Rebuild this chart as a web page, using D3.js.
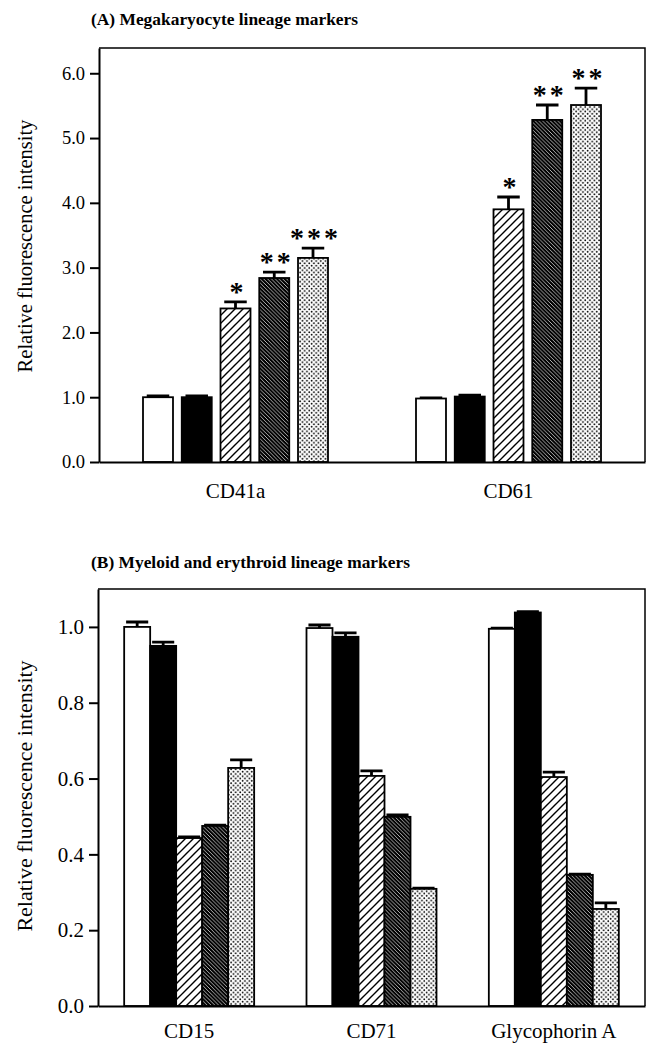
<!DOCTYPE html>
<html>
<head>
<meta charset="utf-8">
<script src="https://cdn.jsdelivr.net/npm/d3@7"></script>
<style>
  body { margin: 0; background: #fff; }
  svg { display: block; }
  text { font-family: "Liberation Serif", "Times New Roman", serif; fill: #000; }
</style>
</head>
<body>
<svg width="652" height="1044"></svg>
<script>
const width = 652, height = 1044;
const svg = d3.select("svg");

// series order (fill style of each bar within a group)
const seriesKeys = ["open", "solid", "hatch", "denseHatch", "dots"];

// Panel A: megakaryocyte lineage markers
const markersA = ["CD41a", "CD61"];
const meanA = [
    [1.00, 1.00, 2.37, 2.84, 3.15],
    [0.98, 1.01, 3.90, 5.28, 5.51]
];
const errA = [
    [0.02, 0.02, 0.10, 0.09, 0.15],
    [0.01, 0.02, 0.19, 0.23, 0.26]
];
const starsA = [
    ["", "", "*", "**", "***"],
    ["", "", "*", "**", "**"]
];
const ticksA = [0, 1, 2, 3, 4, 5, 6];

// Panel B: myeloid and erythroid lineage markers
const markersB = ["CD15", "CD71", "Glycophorin A"];
const meanB = [
    [1.000, 0.950, 0.443, 0.475, 0.628],
    [0.997, 0.974, 0.607, 0.499, 0.309],
    [0.995, 1.038, 0.604, 0.346, 0.256]
];
const errB = [
    [0.013, 0.010, 0.003, 0.002, 0.021],
    [0.008, 0.010, 0.013, 0.005, 0.002],
    [0.002, 0.002, 0.013, 0.002, 0.016]
];
const ticksB = [0, 0.2, 0.4, 0.6, 0.8, 1.0];

// Fill patterns for the bars
function makePatterns() {
    const defs = svg.append("defs");

    const hatch = defs.append("pattern")
        .attr("id", "hatch").attr("patternUnits", "userSpaceOnUse")
        .attr("width", 8).attr("height", 8);
    hatch.append("rect").attr("width", 8).attr("height", 8).attr("fill", "#fff");
    hatch.append("path")
        .attr("d", "M0,8 L8,0 M-1,1 L1,-1 M7,9 L9,7")
        .attr("stroke", "#000").attr("stroke-width", 1.4);

    const dense = defs.append("pattern")
        .attr("id", "denseHatch").attr("patternUnits", "userSpaceOnUse")
        .attr("width", 3.8).attr("height", 3.8);
    dense.append("rect").attr("width", 3.8).attr("height", 3.8).attr("fill", "#000");
    dense.append("path")
        .attr("d", "M0,0 L3.8,3.8 M-1,2.8 L1,4.8 M2.8,-1 L4.8,1")
        .attr("stroke", "#fff").attr("stroke-width", 0.7);

    const dots = defs.append("pattern")
        .attr("id", "dots").attr("patternUnits", "userSpaceOnUse")
        .attr("width", 4.6).attr("height", 4.6);
    dots.append("rect").attr("width", 4.6).attr("height", 4.6).attr("fill", "#fff");
    dots.append("circle").attr("cx", 1.1).attr("cy", 1.1).attr("r", 0.9).attr("fill", "#000");
    dots.append("circle").attr("cx", 3.4).attr("cy", 3.4).attr("r", 0.9).attr("fill", "#000");
}

const fillFor = {
    open: "#fff",
    solid: "#000",
    hatch: "url(#hatch)",
    denseHatch: "url(#denseHatch)",
    dots: "url(#dots)"
};

// Draw one framed bar panel
function drawPanel(p) {
    const g = svg.append("g");

    const x0 = d3.scaleBand().domain(p.markers).range([p.left, p.right]).padding(0);
    const x1 = d3.scaleBand().domain(seriesKeys)
        .range([-p.groupWidth / 2, p.groupWidth / 2]).paddingInner(p.innerPad).paddingOuter(0);
    const y = d3.scaleLinear().domain([0, p.yMax]).range([p.bottom, p.top]);

    // title
    g.append("text")
        .attr("x", 91).attr("y", p.titleY)
        .style("font-size", "17.4px").style("font-weight", "bold")
        .text(p.title);

    // bars
    const rows = [];
    p.markers.forEach((m, i) => {
        seriesKeys.forEach((k, j) => {
            rows.push({ marker: m, key: k, mean: p.means[i][j], err: p.errs[i][j],
                        star: p.stars ? p.stars[i][j] : "" });
        });
    });

    const bw = x1.bandwidth();
    const cx = d => x0(d.marker) + x0.bandwidth() / 2 + x1(d.key) + bw / 2;

    // error bars drawn first so the bar covers the lower part
    g.selectAll(".err").data(rows).enter().append("path")
        .attr("d", d => {
            const yt = y(d.mean + d.err), c = cx(d), hw = bw * p.capFrac / 2;
            return `M${c},${y(d.mean)} L${c},${yt} M${c - hw},${yt} L${c + hw},${yt}`;
        })
        .attr("stroke", "#000").attr("stroke-width", 2.8).attr("fill", "none");

    g.selectAll(".bar").data(rows).enter().append("rect")
        .attr("x", d => cx(d) - bw / 2)
        .attr("y", d => y(d.mean))
        .attr("width", bw)
        .attr("height", d => p.bottom - y(d.mean))
        .attr("fill", d => fillFor[d.key])
        .attr("stroke", "#000").attr("stroke-width", 1.8);

    // significance stars, spaced apart
    g.selectAll(".star").data(rows.filter(d => d.star)).enter().append("text")
        .attr("x", d => cx(d) + 2.5)
        .attr("y", d => y(d.mean + d.err) - 1)
        .attr("text-anchor", "middle")
        .style("font-size", "28px").style("font-weight", "bold")
        .style("letter-spacing", "3px")
        .text(d => d.star);

    // frame (top and right)
    g.append("path")
        .attr("d", `M${p.left},${p.top} L${p.right},${p.top} L${p.right},${p.bottom}`)
        .attr("stroke", "#000").attr("stroke-width", 1.5).attr("fill", "none");

    // axes
    const yAxis = g.append("g")
        .attr("transform", `translate(${p.left},0)`)
        .call(d3.axisLeft(y).tickValues(p.ticks).tickFormat(d3.format(".1f"))
            .tickSize(9).tickSizeOuter(0).tickPadding(5));
    yAxis.select(".domain").attr("stroke-width", 2);
    yAxis.selectAll(".tick line").attr("stroke-width", 2);
    yAxis.selectAll(".tick text")
        .style("font-size", p.tickFont).style("font-family", "'Liberation Serif', serif");

    const xAxis = g.append("g")
        .attr("transform", `translate(0,${p.bottom})`)
        .call(d3.axisBottom(x0).tickSize(0).tickSizeOuter(0).tickPadding(p.labelPad));
    xAxis.select(".domain").attr("stroke-width", 2);
    xAxis.selectAll(".tick text")
        .style("font-size", "21px").style("font-family", "'Liberation Serif', serif");

    // y axis title
    g.append("text")
        .attr("transform", "rotate(-90)")
        .attr("x", -p.yLabelCenter)
        .attr("y", 32)
        .attr("text-anchor", "middle")
        .style("font-size", p.yLabelFont)
        .text("Relative fluorescence intensity");
}

makePatterns();

drawPanel({
    title: "(A) Megakaryocyte lineage markers", titleY: 25,
    markers: markersA, means: meanA, errs: errA, stars: starsA, ticks: ticksA,
    left: 99, right: 645, top: 48, bottom: 462, yMax: 6.39,
    groupWidth: 185, innerPad: 0.226, capFrac: 0.75, labelPad: 21,
    tickFont: "18.5px", yLabelFont: "20.5px", yLabelCenter: 246
});

drawPanel({
    title: "(B) Myeloid and erythroid lineage markers", titleY: 568,
    markers: markersB, means: meanB, errs: errB, stars: null, ticks: ticksB,
    left: 98, right: 645, top: 589, bottom: 1006, yMax: 1.1,
    groupWidth: 130, innerPad: 0, capFrac: 0.85, labelPad: 17,
    tickFont: "21px", yLabelFont: "22px", yLabelCenter: 796
});
</script>
</body>
</html>
